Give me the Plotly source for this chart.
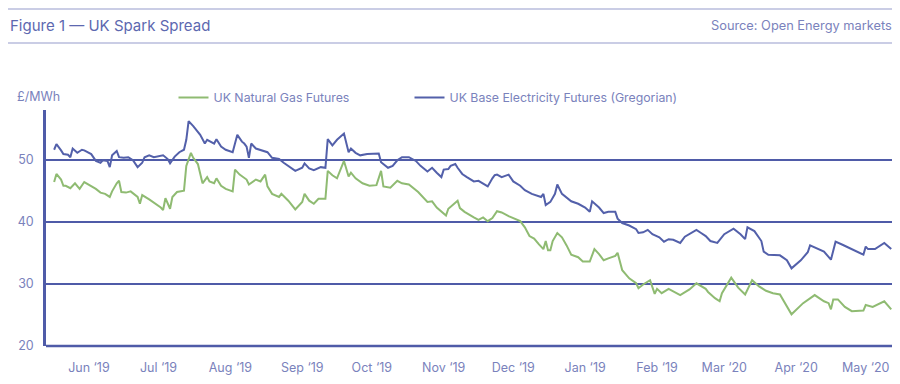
import pandas as pd
import plotly.graph_objects as go

# ---- data (day index counted from 2019-05-13) ----
start_date = "2019-05-13"

elec_day = [4, 5, 7, 8, 10, 11, 12, 14, 16, 17, 20, 22, 24, 25, 27, 28, 29, 31, 32, 34,
            36, 38, 40, 42, 43, 45, 47, 51, 53, 54, 56, 58, 60, 61, 62, 64, 67, 69, 70, 73,
            74, 76, 78, 81, 83, 85, 86, 87, 88, 89, 91, 94, 96, 98, 101, 103, 106, 108, 111, 112,
            114, 116, 119, 121, 122, 124, 126, 129, 131, 132, 134, 136, 139, 142, 144, 145, 148, 150, 152, 154,
            157, 160, 162, 165, 167, 169, 171, 172, 174, 175, 177, 178, 180, 182, 185, 187, 189, 191, 193, 194,
            195, 197, 200, 202, 205, 207, 210, 214, 215, 216, 218, 220, 221, 223, 227, 230, 233, 235, 236, 238,
            239, 241, 243, 246, 247, 249, 252, 255, 256, 258, 260, 262, 265, 267, 269, 271, 274, 276, 279, 281,
            283, 285, 287, 290, 293, 297, 300, 302, 303, 306, 309, 310, 312, 317, 320, 322, 326, 329, 330, 332,
            336, 339, 341, 344, 348, 353, 354, 355, 358, 362, 365]
elec_val = [51.6, 52.5, 51.5, 50.9, 50.8, 50.4, 51.8, 51.1, 51.6, 51.5, 50.9, 49.8, 49.5, 49.9, 49.8, 48.8, 50.7, 51.4, 50.4, 50.3,
            50.4, 49.9, 48.8, 49.5, 50.4, 50.7, 50.4, 50.7, 50.1, 49.4, 50.5, 51.2, 51.6, 53.2, 56.2, 55.4, 54.0, 52.6, 53.2, 52.6,
            53.3, 52.1, 51.6, 51.2, 54.0, 52.9, 52.6, 52.1, 50.3, 52.6, 51.8, 51.4, 51.2, 50.3, 50.1, 49.5, 48.7, 48.2, 48.7, 49.4,
            48.6, 48.3, 48.8, 48.7, 53.3, 52.3, 53.2, 54.2, 51.2, 51.8, 51.1, 50.7, 50.9, 50.9, 51.0, 49.6, 48.7, 49.0, 49.9, 50.4,
            50.4, 49.8, 49.0, 48.1, 48.7, 47.9, 47.2, 48.4, 48.5, 49.0, 49.3, 48.7, 47.7, 47.2, 46.5, 46.6, 46.2, 45.7, 47.0, 47.5,
            47.6, 47.2, 47.6, 46.5, 45.8, 45.1, 44.5, 44.0, 44.5, 42.7, 43.2, 44.5, 46.0, 44.5, 43.3, 42.9, 42.3, 41.6, 43.3, 42.6,
            42.3, 41.4, 41.6, 41.6, 40.5, 39.8, 39.4, 38.8, 38.2, 38.3, 38.7, 38.0, 37.5, 36.8, 37.2, 37.1, 36.6, 37.6, 38.2, 38.7,
            38.2, 37.7, 36.9, 36.6, 38.0, 38.9, 38.0, 37.2, 39.1, 38.5, 36.9, 35.2, 34.7, 34.6, 33.8, 32.5, 33.8, 35.1, 36.2, 35.9,
            35.2, 33.9, 36.8, 36.3, 35.6, 34.7, 36.0, 35.6, 35.6, 36.6, 35.6]

gas_day = [4, 5, 7, 8, 9, 11, 13, 15, 17, 19, 22, 24, 26, 28, 29, 31, 32, 33, 35, 37,
           40, 41, 42, 45, 47, 50, 51, 52, 54, 55, 57, 60, 61, 63, 64, 66, 68, 70, 71, 73,
           74, 76, 78, 81, 82, 84, 87, 88, 91, 93, 95, 96, 98, 101, 102, 105, 108, 111, 112, 114,
           116, 118, 121, 122, 124, 126, 129, 131, 132, 134, 137, 140, 143, 145, 146, 149, 152, 154, 157, 161,
           165, 167, 169, 173, 174, 177, 178, 179, 181, 185, 187, 189, 191, 193, 195, 197, 200, 205, 207, 209,
           211, 213, 215, 216, 217, 218, 219, 221, 223, 225, 227, 230, 232, 235, 237, 239, 241, 243, 246, 247,
           249, 252, 255, 256, 258, 261, 262, 263, 264, 266, 269, 274, 278, 281, 285, 286, 289, 291, 292, 296,
           299, 302, 305, 308, 311, 314, 317, 322, 327, 332, 336, 338, 339, 340, 342, 345, 348, 353, 354, 357,
           362, 365]
gas_val = [46.4, 47.7, 46.8, 45.8, 45.8, 45.4, 46.2, 45.3, 46.4, 46.0, 45.3, 44.7, 44.5, 44.0, 44.9, 46.2, 46.6, 44.8, 44.7, 44.9,
           44.0, 42.9, 44.3, 43.6, 43.1, 42.3, 41.9, 43.8, 42.1, 44.0, 44.8, 45.0, 49.0, 51.1, 50.3, 49.3, 46.2, 47.2, 46.5, 46.2,
           47.0, 45.8, 45.3, 44.9, 48.4, 47.6, 46.8, 46.0, 46.8, 46.5, 47.6, 45.7, 44.5, 44.0, 44.5, 43.4, 42.0, 43.2, 44.5, 43.4,
           42.9, 43.7, 43.7, 48.2, 47.5, 47.0, 49.8, 47.3, 47.9, 47.0, 46.2, 45.8, 45.9, 48.2, 45.7, 45.5, 46.6, 46.2, 46.0, 44.8,
           43.2, 43.3, 42.3, 41.0, 42.1, 43.1, 43.4, 42.2, 41.6, 40.7, 40.3, 40.7, 40.1, 40.6, 41.7, 41.5, 40.9, 40.1, 39.1, 37.7,
           37.3, 36.4, 35.6, 36.9, 35.4, 35.4, 36.9, 38.2, 37.5, 36.2, 34.7, 34.3, 33.6, 33.6, 35.6, 34.8, 33.8, 34.1, 34.5, 35.0,
           32.2, 30.9, 30.1, 29.3, 29.9, 30.6, 29.6, 28.4, 29.2, 28.5, 29.2, 28.2, 29.1, 30.1, 29.2, 28.7, 27.7, 27.2, 28.5, 31.0,
           29.4, 28.3, 30.6, 29.6, 28.9, 28.5, 28.3, 25.1, 26.9, 28.2, 27.2, 26.9, 25.9, 27.5, 27.5, 26.3, 25.6, 25.7, 26.6, 26.3,
           27.2, 25.9]

tick_dates = ["2019-06-01", "2019-07-01", "2019-08-01", "2019-09-01", "2019-10-01", "2019-11-01",
              "2019-12-01", "2020-01-01", "2020-02-01", "2020-03-01", "2020-04-01", "2020-05-01"]
tick_labels = ["Jun \u201819", "Jul \u201819", "Aug \u201819", "Sep \u201819", "Oct \u201819", "Nov \u201819",
               "Dec \u201819", "Jan \u201819", "Feb \u201819", "Mar \u201820", "Apr \u201820", "May \u201820"]
y_ticks = [20, 30, 40, 50]

series_names = ["UK Natural Gas Futures", "UK Base Electricity Futures (Gregorian)"]

# ---- styling ----
BLUE = "#5360aa"
GRID = "#4f5ba8"
GREEN = "#8fbb72"
TEXT = "#7a82bc"
TITLE = "#5d68b0"
RULE = "#b9bcdc"
FONT = "Inter, Open Sans, sans-serif"

# the page places the figure 8px in from the window corner, so the figure is
# sized 892x368 and laid out so the plot area lands at window px 46..892 x 110..346
FIG_W, FIG_H = 892, 368
PW, PH = 846.0, 236.0


def px(xpix):  # window pixel -> paper x
    return (xpix - 46) / PW


def py(ypix):  # window pixel -> paper y
    return (346 - ypix) / PH


base = pd.Timestamp(start_date)
elec_x = base + pd.to_timedelta(elec_day, unit="D")
gas_x = base + pd.to_timedelta(gas_day, unit="D")

fig = go.Figure()
fig.add_trace(go.Scatter(x=gas_x, y=gas_val, mode="lines", name=series_names[0],
                         line=dict(color=GREEN, width=2), legend="legend"))
fig.add_trace(go.Scatter(x=elec_x, y=elec_val, mode="lines", name=series_names[1],
                         line=dict(color=BLUE, width=2), legend="legend2"))

x_start = base + pd.Timedelta(hours=12)
x_end = base + pd.Timedelta(days=365, hours=8)

legend_common = dict(orientation="h", xref="container", yref="container",
                     y=1 - 75 / FIG_H, xanchor="left", yanchor="top",
                     font=dict(family=FONT, size=12.3, color=TEXT),
                     bgcolor="rgba(0,0,0,0)", borderwidth=0,
                     itemclick=False, itemdoubleclick=False)

fig.update_layout(
    width=FIG_W, height=FIG_H,
    margin=dict(l=38, r=8, t=102, b=30, autoexpand=False),
    paper_bgcolor="white", plot_bgcolor="white",
    font=dict(family=FONT, color=TEXT, size=12),
    showlegend=True,
    legend=dict(x=165.5 / FIG_W, **legend_common),
    legend2=dict(x=401.5 / FIG_W, **legend_common),
    xaxis=dict(range=[x_start, x_end], tickmode="array", tickvals=tick_dates, ticktext=tick_labels,
               showgrid=False, zeroline=False, showline=False, ticks="",
               ticklabelstandoff=12, tickfont=dict(size=12.5, color=TEXT)),
    yaxis=dict(range=[20, 58], tickmode="array", tickvals=y_ticks,
               showgrid=True, gridcolor=GRID, gridwidth=2.2, zeroline=False,
               showline=True, linecolor=GRID, linewidth=2.5, ticks="",
               ticklabelstandoff=7, tickfont=dict(size=12.5, color=TEXT)),
    annotations=[
        dict(text="Figure 1 \u2014 UK Spark Spread", xref="paper", yref="paper",
             x=px(8), y=py(25), xanchor="left", yanchor="middle", showarrow=False,
             font=dict(family=FONT, size=15, color=TITLE)),
        dict(text="Source: Open Energy markets", xref="paper", yref="paper",
             x=px(894), y=py(25), xanchor="right", yanchor="middle", showarrow=False,
             font=dict(family=FONT, size=12.8, color=TEXT)),
        dict(text="\u00a3/MWh", xref="paper", yref="paper",
             x=px(15), y=py(97), xanchor="left", yanchor="middle", showarrow=False,
             font=dict(family=FONT, size=12.5, color=TEXT)),
    ],
)

# bottom axis line
fig.add_shape(type="line", xref="paper", yref="paper", x0=0, x1=1, y0=0, y1=0,
              line=dict(color=GRID, width=2.5))
# header rules (figure decoration)
fig.add_shape(type="line", xref="paper", yref="paper",
              x0=px(8), x1=px(893), y0=py(9), y1=py(9),
              line=dict(color=RULE, width=1.5))
fig.add_shape(type="line", xref="paper", yref="paper",
              x0=px(8), x1=px(893), y0=py(43), y1=py(43),
              line=dict(color=RULE, width=1.5))

fig.write_html("out.html")
